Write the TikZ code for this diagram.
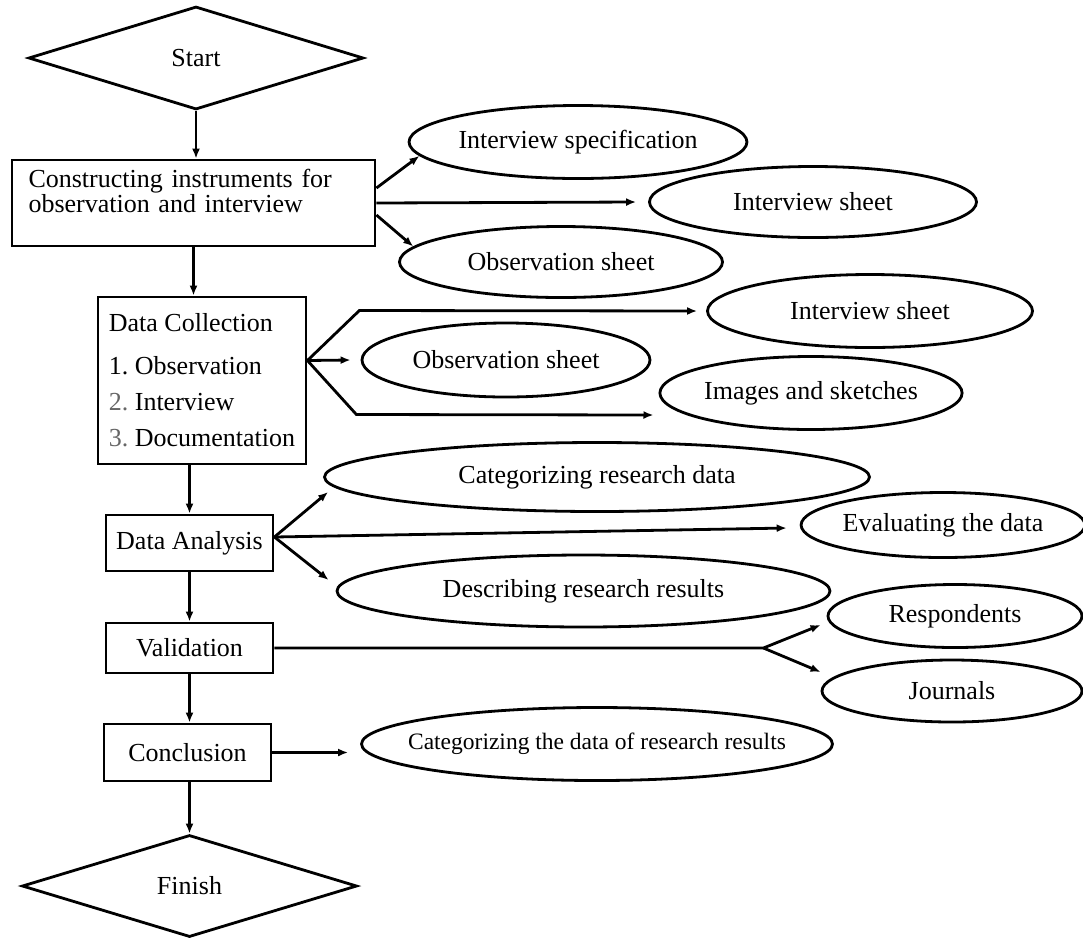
\documentclass[tikz,border=0pt]{standalone}
\usepackage{fontspec}
\setmainfont{Liberation Serif}
\usetikzlibrary{arrows.meta, calc, shapes.geometric}

\begin{document}
\begin{tikzpicture}[x=1pt, y=-1pt, line width=2.8pt,
    every node/.style={font=\fontsize{26}{25}\selectfont},
    box/.style={draw, rectangle, inner sep=0pt},
    oval/.style={draw, ellipse, inner sep=0pt},
    rhomb/.style={draw, diamond, inner sep=0pt},
    arr/.style={-{Latex[length=10pt,width=8pt]}}]
    \useasboundingbox (0,0) rectangle (1083,938);

    % main column
    \node [rhomb, minimum width=335pt, minimum height=103pt] (Dstart) at (196, 58) {Start};
    \node [box, minimum width=363pt, minimum height=86pt, text width=330pt, align=left] (Bins) at (193.5, 203)
        {Constructing instruments for\\observation and interview\\~};
    \node [box, minimum width=208pt, minimum height=167pt, align=left, font=\fontsize{26}{36}\selectfont] (Bcol) at (202, 380.5)
        {Data Collection\\[7pt] 1.~Observation\\ {\color{black!60}2.}~Interview\\ {\color{black!60}3.}~Documentation};
    \node [box, minimum width=167pt, minimum height=56pt] (Bana) at (189.5, 543) {Data Analysis};
    \node [box, minimum width=167pt, minimum height=50pt] (Bval) at (189.5, 648) {Validation};
    \node [box, minimum width=167pt, minimum height=57pt] (Bcon) at (187.5, 752.5) {Conclusion};
    \node [rhomb, minimum width=335pt, minimum height=102pt] (Dfin) at (189.5, 886) {Finish};

    % outputs
    \node [oval, minimum width=323pt, minimum height=73pt] (Espec) at (578, 142) {Interview specification};
    \node [oval, minimum width=327pt, minimum height=71pt] (Esheet) at (813, 202) {Interview sheet};
    \node [oval, minimum width=323pt, minimum height=71pt] (Eobs) at (561, 262) {Observation sheet};
    \node [oval, minimum width=325pt, minimum height=73pt] (Eint) at (870, 311) {Interview sheet};
    \node [oval, minimum width=288pt, minimum height=74pt] (Eobsb) at (506, 360) {Observation sheet};
    \node [oval, minimum width=262pt, minimum height=73pt] (Eimg) at (811, 393) {Images and sketches};
    \node [oval, minimum width=545pt, minimum height=69pt] (Ecat) at (597, 477) {Categorizing research data};
    \node [oval, minimum width=260pt, minimum height=65pt] (Eeval) at (943, 525) {Evaluating the data};
    \node [oval, minimum width=493pt, minimum height=72pt] (Edesc) at (583.5, 591) {Describing research results};
    \node [oval, minimum width=254pt, minimum height=63pt] (Eresp) at (955, 616) {Respondents};
    \node [oval, minimum width=260pt, minimum height=62pt] (Ejour) at (952, 691) {Journals};
    \node [oval, minimum width=471pt, minimum height=73pt, font=\fontsize{23.5}{25}\selectfont] (Ecres) at (597, 744)
        {\makebox[0pt]{Categorizing the data of research results}};

    % flow
    \draw [arr] (Dstart.south) -- (Dstart.south |- Bins.north);
    \draw [arr] (Bins.south) -- (Bins.south |- Bcol.north);
    \draw [arr] (Bana.north |- Bcol.south) -- (Bana.north);
    \draw [arr] (Bana.south) -- (Bval.north);
    \draw [arr] (Bval.south) -- (Bval.south |- Bcon.north);
    \draw [arr] (Dfin.north |- Bcon.south) -- (Dfin.north);

    % branches
    \draw [arr] ([yshift=15pt]Bins.east) -- (Espec.185);
    \draw [arr] (Bins.east) -- ([xshift=-12pt]Esheet.west);
    \draw [arr] ([yshift=-12pt]Bins.east) -- (Eobs.174);

    \coordinate (Pcol) at ([yshift=20pt]Bcol.east);
    \draw [arr] (Pcol) -- ++(52,-50) -- ([xshift=-9pt]Eint.west);
    \draw [arr] (Pcol) -- ([xshift=-10pt]Eobsb.west);
    \draw [arr] (Pcol) -- ++(49,54) -- ([xshift=-5pt,yshift=-22pt]Eimg.west);

    \coordinate (Pana) at ([yshift=6pt]Bana.east);
    \draw [arr] (Pana) -- ([xshift=5pt,yshift=-15pt]Ecat.west);
    \draw [arr] (Pana) -- ([xshift=-13pt,yshift=-3pt]Eeval.west);
    \draw [arr] (Pana) -- ([xshift=-7pt,yshift=11pt]Edesc.west);

    \draw [arr] (Bval.east) -- ++(489,0) coordinate (Pval) -- ([xshift=-6pt,yshift=-9pt]Eresp.west);
    \draw [arr] (Pval) -- ([yshift=19pt]Ejour.west);

    \draw [arr] (Bcon.east) -- ($(Bcon.east -| Ecres.west)+(-12,0)$);
\end{tikzpicture}
\end{document}
